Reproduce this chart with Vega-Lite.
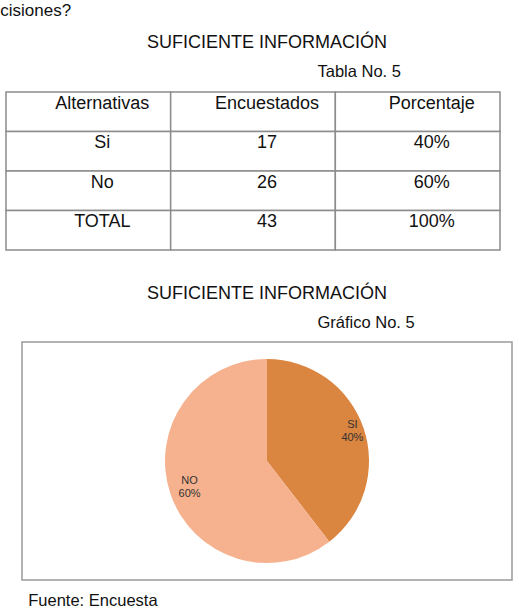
{
  "$schema": "https://vega.github.io/schema/vega-lite/v6.json",
  "padding": {"left": 0, "top": 2, "right": 0, "bottom": 0},
  "background": "white",
  "config": {
    "font": "Liberation Sans",
    "view": {"stroke": null},
    "title": {"font": "Liberation Sans", "fontWeight": "normal", "color": "#111111"},
    "axis": {"titleFont": "Liberation Sans", "titleFontWeight": "normal", "titleColor": "#111111"}
  },
  "title": {"text": "cisiones?", "anchor": "start", "fontSize": 17, "offset": 14},
  "spacing": 33,
  "vconcat": [
    {
      "width": 490,
      "height": 158,
      "title": {"text": "SUFICIENTE INFORMACIÓN", "anchor": "middle", "fontSize": 18, "offset": 11},
      "data": {
        "values": [
          {"fila": "encabezado", "columna": "Alternativas", "texto": "Alternativas"},
          {"fila": "encabezado", "columna": "Encuestados", "texto": "Encuestados"},
          {"fila": "encabezado", "columna": "Porcentaje", "texto": "Porcentaje"},
          {"fila": "Si", "columna": "Alternativas", "texto": "Si"},
          {"fila": "Si", "columna": "Encuestados", "texto": "17"},
          {"fila": "Si", "columna": "Porcentaje", "texto": "40%"},
          {"fila": "No", "columna": "Alternativas", "texto": "No"},
          {"fila": "No", "columna": "Encuestados", "texto": "26"},
          {"fila": "No", "columna": "Porcentaje", "texto": "60%"},
          {"fila": "TOTAL", "columna": "Alternativas", "texto": "TOTAL"},
          {"fila": "TOTAL", "columna": "Encuestados", "texto": "43"},
          {"fila": "TOTAL", "columna": "Porcentaje", "texto": "100%"}
        ]
      },
      "encoding": {
        "x": {
          "field": "columna", "type": "nominal",
          "sort": ["Alternativas", "Encuestados", "Porcentaje"],
          "scale": {"paddingInner": 0, "paddingOuter": 0, "range": [-16, 478]},
          "axis": {"orient": "top", "labels": false, "ticks": false, "domain": false,
                   "title": "Tabla No. 5", "titleFontSize": 16.5, "titleAnchor": "start",
                   "titleAlign": "left", "titleX": 295, "titlePadding": 13}
        },
        "y": {
          "field": "fila", "type": "nominal",
          "sort": ["encabezado", "Si", "No", "TOTAL"],
          "scale": {"paddingInner": 0, "paddingOuter": 0},
          "axis": null
        }
      },
      "layer": [
        {"mark": {"type": "rect", "fill": "white", "stroke": "#8c8c8c", "strokeWidth": 1.5}},
        {
          "mark": {"type": "text", "dx": 14, "dy": -8, "fontSize": 18, "color": "#111111"},
          "encoding": {"text": {"field": "texto", "type": "nominal"}}
        }
      ]
    },
    {
      "title": {"text": "Fuente: Encuesta", "orient": "bottom", "anchor": "start", "fontSize": 16.5, "dx": 28, "offset": 12},
      "vconcat": [
        {
          "width": 490,
          "height": 238,
          "view": {"stroke": "#9a9a9a", "strokeWidth": 1.5},
          "title": {"text": "SUFICIENTE INFORMACIÓN", "anchor": "middle", "fontSize": 18, "offset": 11},
          "data": {
            "values": [
              {"respuesta": "SI", "encuestados": 17, "porcentaje": "40%"},
              {"respuesta": "NO", "encuestados": 26, "porcentaje": "60%"}
            ]
          },
          "layer": [
            {
              "mark": {"type": "point", "opacity": 0},
              "encoding": {
                "x": {"field": "respuesta", "type": "nominal",
                      "axis": {"orient": "top", "labels": false, "ticks": false, "domain": false,
                               "title": "Gráfico No. 5", "titleFontSize": 16.5, "titleAnchor": "start",
                               "titleAlign": "left", "titleX": 295, "titlePadding": 12}},
                "y": {"field": "respuesta", "type": "nominal",
                      "axis": {"labels": false, "ticks": false, "domain": false, "title": null,
                               "minExtent": 21, "maxExtent": 21}}
              }
            },
            {
              "mark": {"type": "arc", "radius": 102},
              "encoding": {
                "theta": {"field": "encuestados", "type": "quantitative", "stack": true},
                "order": {"field": "encuestados", "type": "quantitative", "sort": "ascending"},
                "color": {"field": "respuesta", "type": "nominal",
                          "scale": {"domain": ["SI", "NO"], "range": ["#DA8540", "#F6B28E"]},
                          "legend": null}
              }
            },
            {
              "mark": {"type": "text", "radius": 86, "dx": 4, "dy": -8, "fontSize": 11, "color": "#333333"},
              "encoding": {
                "theta": {"field": "encuestados", "type": "quantitative", "stack": true},
                "order": {"field": "encuestados", "type": "quantitative", "sort": "ascending"},
                "text": {"field": "respuesta", "type": "nominal"}
              }
            },
            {
              "mark": {"type": "text", "radius": 86, "dx": 4, "dy": 5, "fontSize": 11, "color": "#333333"},
              "encoding": {
                "theta": {"field": "encuestados", "type": "quantitative", "stack": true},
                "order": {"field": "encuestados", "type": "quantitative", "sort": "ascending"},
                "text": {"field": "porcentaje", "type": "nominal"}
              }
            }
          ]
        }
      ]
    }
  ]
}
